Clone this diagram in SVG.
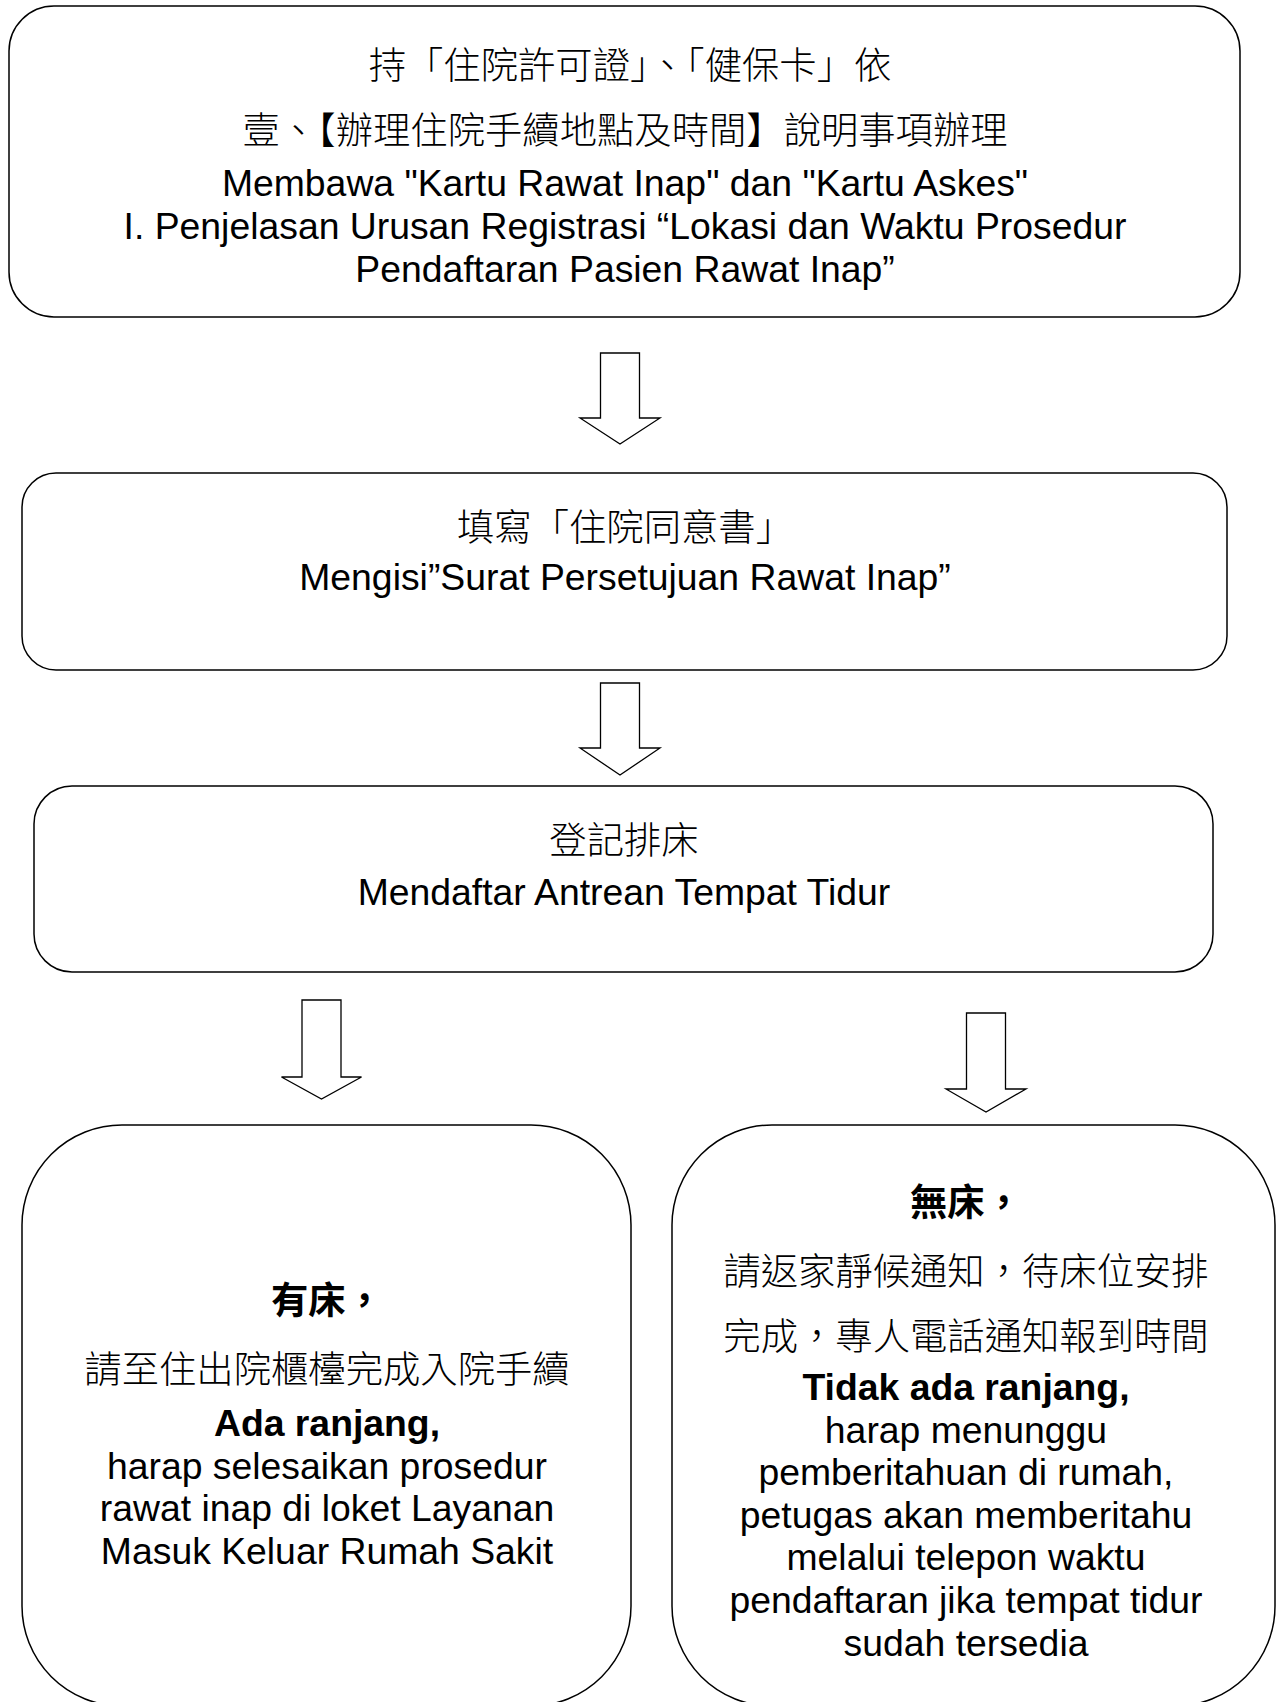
<svg xmlns="http://www.w3.org/2000/svg" width="1277" height="1702" viewBox="0 0 1277 1702">
<style>
.box{fill:#fff;stroke:#000;stroke-width:1.5}
.arr{fill:#fff;stroke:#000;stroke-width:1.3;stroke-linejoin:miter}
.en{font-family:"Liberation Sans",Arial,"Noto Sans CJK TC",sans-serif;font-size:37.33px;fill:#000;text-anchor:middle}
.zh{font-family:"Noto Sans CJK TC","Noto Sans CJK JP",sans-serif;font-size:37.33px;font-weight:300;fill:#000;text-anchor:middle}
.b{font-weight:700}
</style>
<rect width="1277" height="1702" fill="#fff"/>
<g id="connectors">
<polygon class="arr" points="600.5,353 639.5,353 639.5,418 660,418 620,444 580,418 600.5,418"/>
<polygon class="arr" points="600.5,683 639.5,683 639.5,748 660,748 620,775 580,748 600.5,748"/>
<polygon class="arr" points="302,1000 341,1000 341,1077 361.5,1077 321.5,1099 281.5,1077 302,1077"/>
<polygon class="arr" points="966.5,1013 1005.5,1013 1005.5,1089 1026,1089 986,1112 946,1089 966.5,1089"/>
</g>
<g id="node1">
<rect class="box" x="9" y="6" width="1231" height="311" rx="45" ry="45"/>
<text class="zh" lang="zh-TW" x="630" y="79">持「住院許可證」、「健保卡」依</text>
<text class="zh" lang="zh-TW" x="625" y="144">壹、【辦理住院手續地點及時間】說明事項辦理</text>
<text class="en" x="625" y="196">Membawa "Kartu Rawat Inap" dan "Kartu Askes"</text>
<text class="en" x="625" y="239">I. Penjelasan Urusan Registrasi “Lokasi dan Waktu Prosedur</text>
<text class="en" x="625" y="282">Pendaftaran Pasien Rawat Inap”</text>
</g>
<g id="node2">
<rect class="box" x="22" y="473" width="1205" height="197" rx="34" ry="34"/>
<text class="zh" lang="zh-TW" x="625" y="541">填寫「住院同意書」</text>
<text class="en" x="625" y="590">Mengisi”Surat Persetujuan Rawat Inap”</text>
</g>
<g id="node3">
<rect class="box" x="34" y="786" width="1179" height="186" rx="38" ry="38"/>
<text class="zh" lang="zh-TW" x="624" y="854">登記排床</text>
<text class="en" x="624" y="905">Mendaftar Antrean Tempat Tidur</text>
</g>
<g id="node4">
<rect class="box" x="22" y="1125" width="609" height="581" rx="100" ry="100"/>
<text class="zh b" lang="zh-TW" x="327" y="1314">有床，</text>
<text class="zh" lang="zh-TW" x="327" y="1383">請至住出院櫃檯完成入院手續</text>
<text class="en b" x="327" y="1435.5">Ada ranjang,</text>
<text class="en" x="327" y="1478.5">harap selesaikan prosedur</text>
<text class="en" x="327" y="1521">rawat inap di loket Layanan</text>
<text class="en" x="327" y="1563.5">Masuk Keluar Rumah Sakit</text>
</g>
<g id="node5">
<rect class="box" x="672" y="1125" width="603" height="581" rx="100" ry="100"/>
<text class="zh b" lang="zh-TW" x="966" y="1216">無床，</text>
<text class="zh" lang="zh-TW" x="966" y="1285">請返家靜候通知，待床位安排</text>
<text class="zh" lang="zh-TW" x="966" y="1350">完成，專人電話通知報到時間</text>
<text class="en b" x="966" y="1400">Tidak ada ranjang,</text>
<text class="en" x="966" y="1442.6">harap menunggu</text>
<text class="en" x="966" y="1485.2">pemberitahuan di rumah,</text>
<text class="en" x="966" y="1527.8">petugas akan memberitahu</text>
<text class="en" x="966" y="1570.4">melalui telepon waktu</text>
<text class="en" x="966" y="1613">pendaftaran jika tempat tidur</text>
<text class="en" x="966" y="1655.6">sudah tersedia</text>
</g>
</svg>
